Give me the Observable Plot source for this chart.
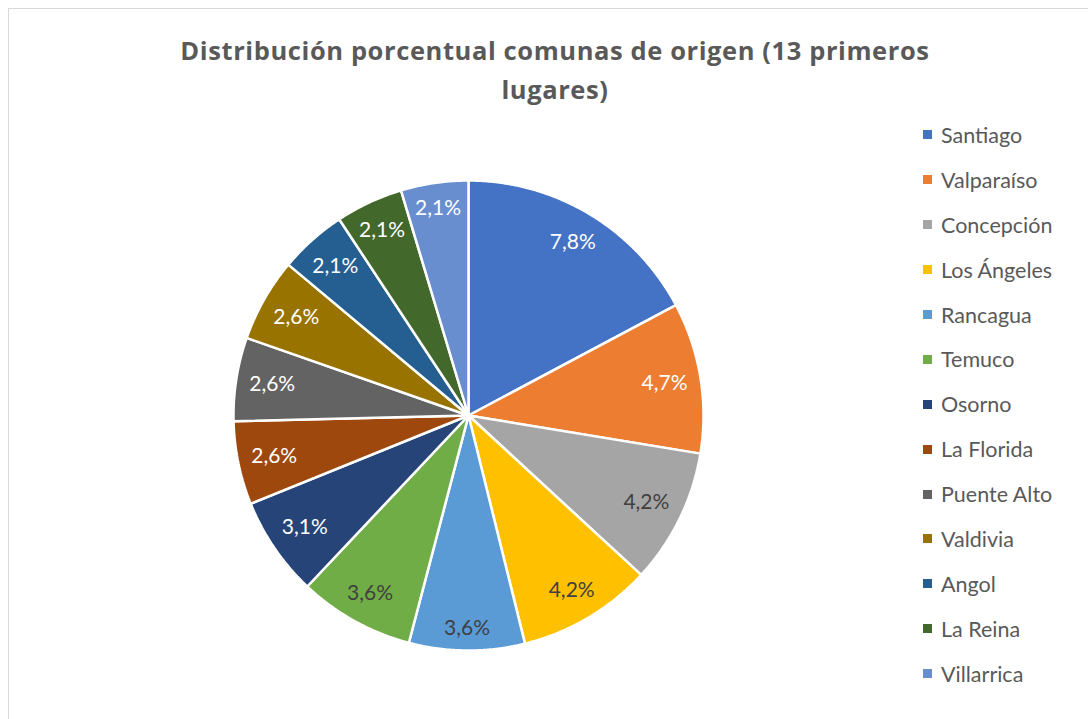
<!DOCTYPE html>
<html>
<head>
<meta charset="utf-8">
<script src="https://cdn.jsdelivr.net/npm/d3@7"></script>
<script src="https://cdn.jsdelivr.net/npm/@observablehq/plot@0.6"></script>
<style>
  html, body { margin: 0; padding: 0; background: #fff; }
  #wrap { position: relative; width: 1088px; height: 719px; overflow: hidden; font-family: Lato, "Open Sans", sans-serif; }
  #frame { position: absolute; left: 8px; top: 8px; width: 1200px; height: 800px; border: 1px solid #d9d9d9; box-sizing: border-box; }
  #title { position: absolute; left: 100px; width: 910px; top: 31px; text-align: center; font-family: "Open Sans", Lato, sans-serif; font-weight: bold; font-size: 25.5px; letter-spacing: 0.6px; line-height: 39px; color: #595959; }
  #legend { position: absolute; left: 923px; top: 112.5px; }
  .item { height: 44.9px; display: flex; align-items: center; position: relative; font-size: 21.5px; color: #595959; }
  .sw { width: 9px; height: 9px; margin-right: 9px; }
  #chart { position: absolute; left: 0; top: 0; }
</style>
</head>
<body>
<div id="wrap">
  <div id="frame"></div>
  <div id="chart"></div>
  <div id="title">Distribución porcentual comunas de origen (13 primeros<br>lugares)</div>
  <div id="legend"></div>
</div>
<script>
const comunas = ["Santiago", "Valparaíso", "Concepción", "Los Ángeles", "Rancagua", "Temuco", "Osorno", "La Florida", "Puente Alto", "Valdivia", "Angol", "La Reina", "Villarrica"];
const porcentajes = [7.8, 4.7, 4.2, 4.2, 3.6, 3.6, 3.1, 2.6, 2.6, 2.6, 2.1, 2.1, 2.1];
const colores = ["#4472C4", "#ED7D31", "#A5A5A5", "#FFC000", "#5B9BD5", "#70AD47", "#264478", "#9E480E", "#636363", "#997300", "#255E91", "#43682B", "#698ED0"];
const colorEtiqueta = ["#ffffff", "#ffffff", "#404040", "#404040", "#404040", "#404040", "#ffffff", "#ffffff", "#ffffff", "#ffffff", "#ffffff", "#ffffff", "#ffffff"];

const arcs = d3.pie().sort(null).value(d => d)(porcentajes);

// slice outlines in unit-circle coordinates (angle measured clockwise from top)
const polys = [];
arcs.forEach((a, i) => {
  const name = comunas[i];
  polys.push({name, x: 0, y: 0});
  const n = Math.max(2, Math.ceil((a.endAngle - a.startAngle) / (Math.PI / 360)));
  for (let j = 0; j <= n; j++) {
    const t = a.startAngle + (a.endAngle - a.startAngle) * j / n;
    polys.push({name, x: Math.sin(t), y: Math.cos(t)});
  }
  polys.push({name, x: 0, y: 0});
});

const cx = 468, cy = 415, R = 235;
// "inside end" label placement: label box kept just inside the rim
const halfW = 23, halfH = 10, pad = 12;
const labels = arcs.map((a, i) => {
  const t = (a.startAngle + a.endAngle) / 2;
  const d = (R - pad - halfW * Math.abs(Math.sin(t)) - halfH * Math.abs(Math.cos(t))) / R;
  return {name: comunas[i], x: d * Math.sin(t), y: d * Math.cos(t),
          text: porcentajes[i].toFixed(1).replace(".", ",") + "%", fill: colorEtiqueta[i]};
});

const chart = Plot.plot({
  width: 1088,
  height: 719,
  margin: 0,
  x: {domain: [-1, 1], range: [cx - R, cx + R], axis: null},
  y: {domain: [-1, 1], range: [cy + R, cy - R], axis: null},
  color: {domain: comunas, range: colores},
  style: {fontFamily: "Lato, 'Open Sans', sans-serif", background: "transparent"},
  marks: [
    Plot.line(polys, {x: "x", y: "y", z: "name", fill: "name", stroke: "#ffffff", strokeWidth: 2.5, strokeLinejoin: "miter", curve: "linear"}),
    Plot.text(labels, {x: "x", y: "y", text: "text", fill: d => d.fill, fontSize: 21})
  ]
});
document.getElementById("chart").appendChild(chart);

const legend = document.getElementById("legend");
comunas.forEach((c, i) => {
  const div = document.createElement("div");
  div.className = "item";
  const sw = document.createElement("span");
  sw.className = "sw";
  sw.style.background = colores[i];
  div.appendChild(sw);
  div.appendChild(document.createTextNode(c));
  legend.appendChild(div);
});
</script>
</body>
</html>
